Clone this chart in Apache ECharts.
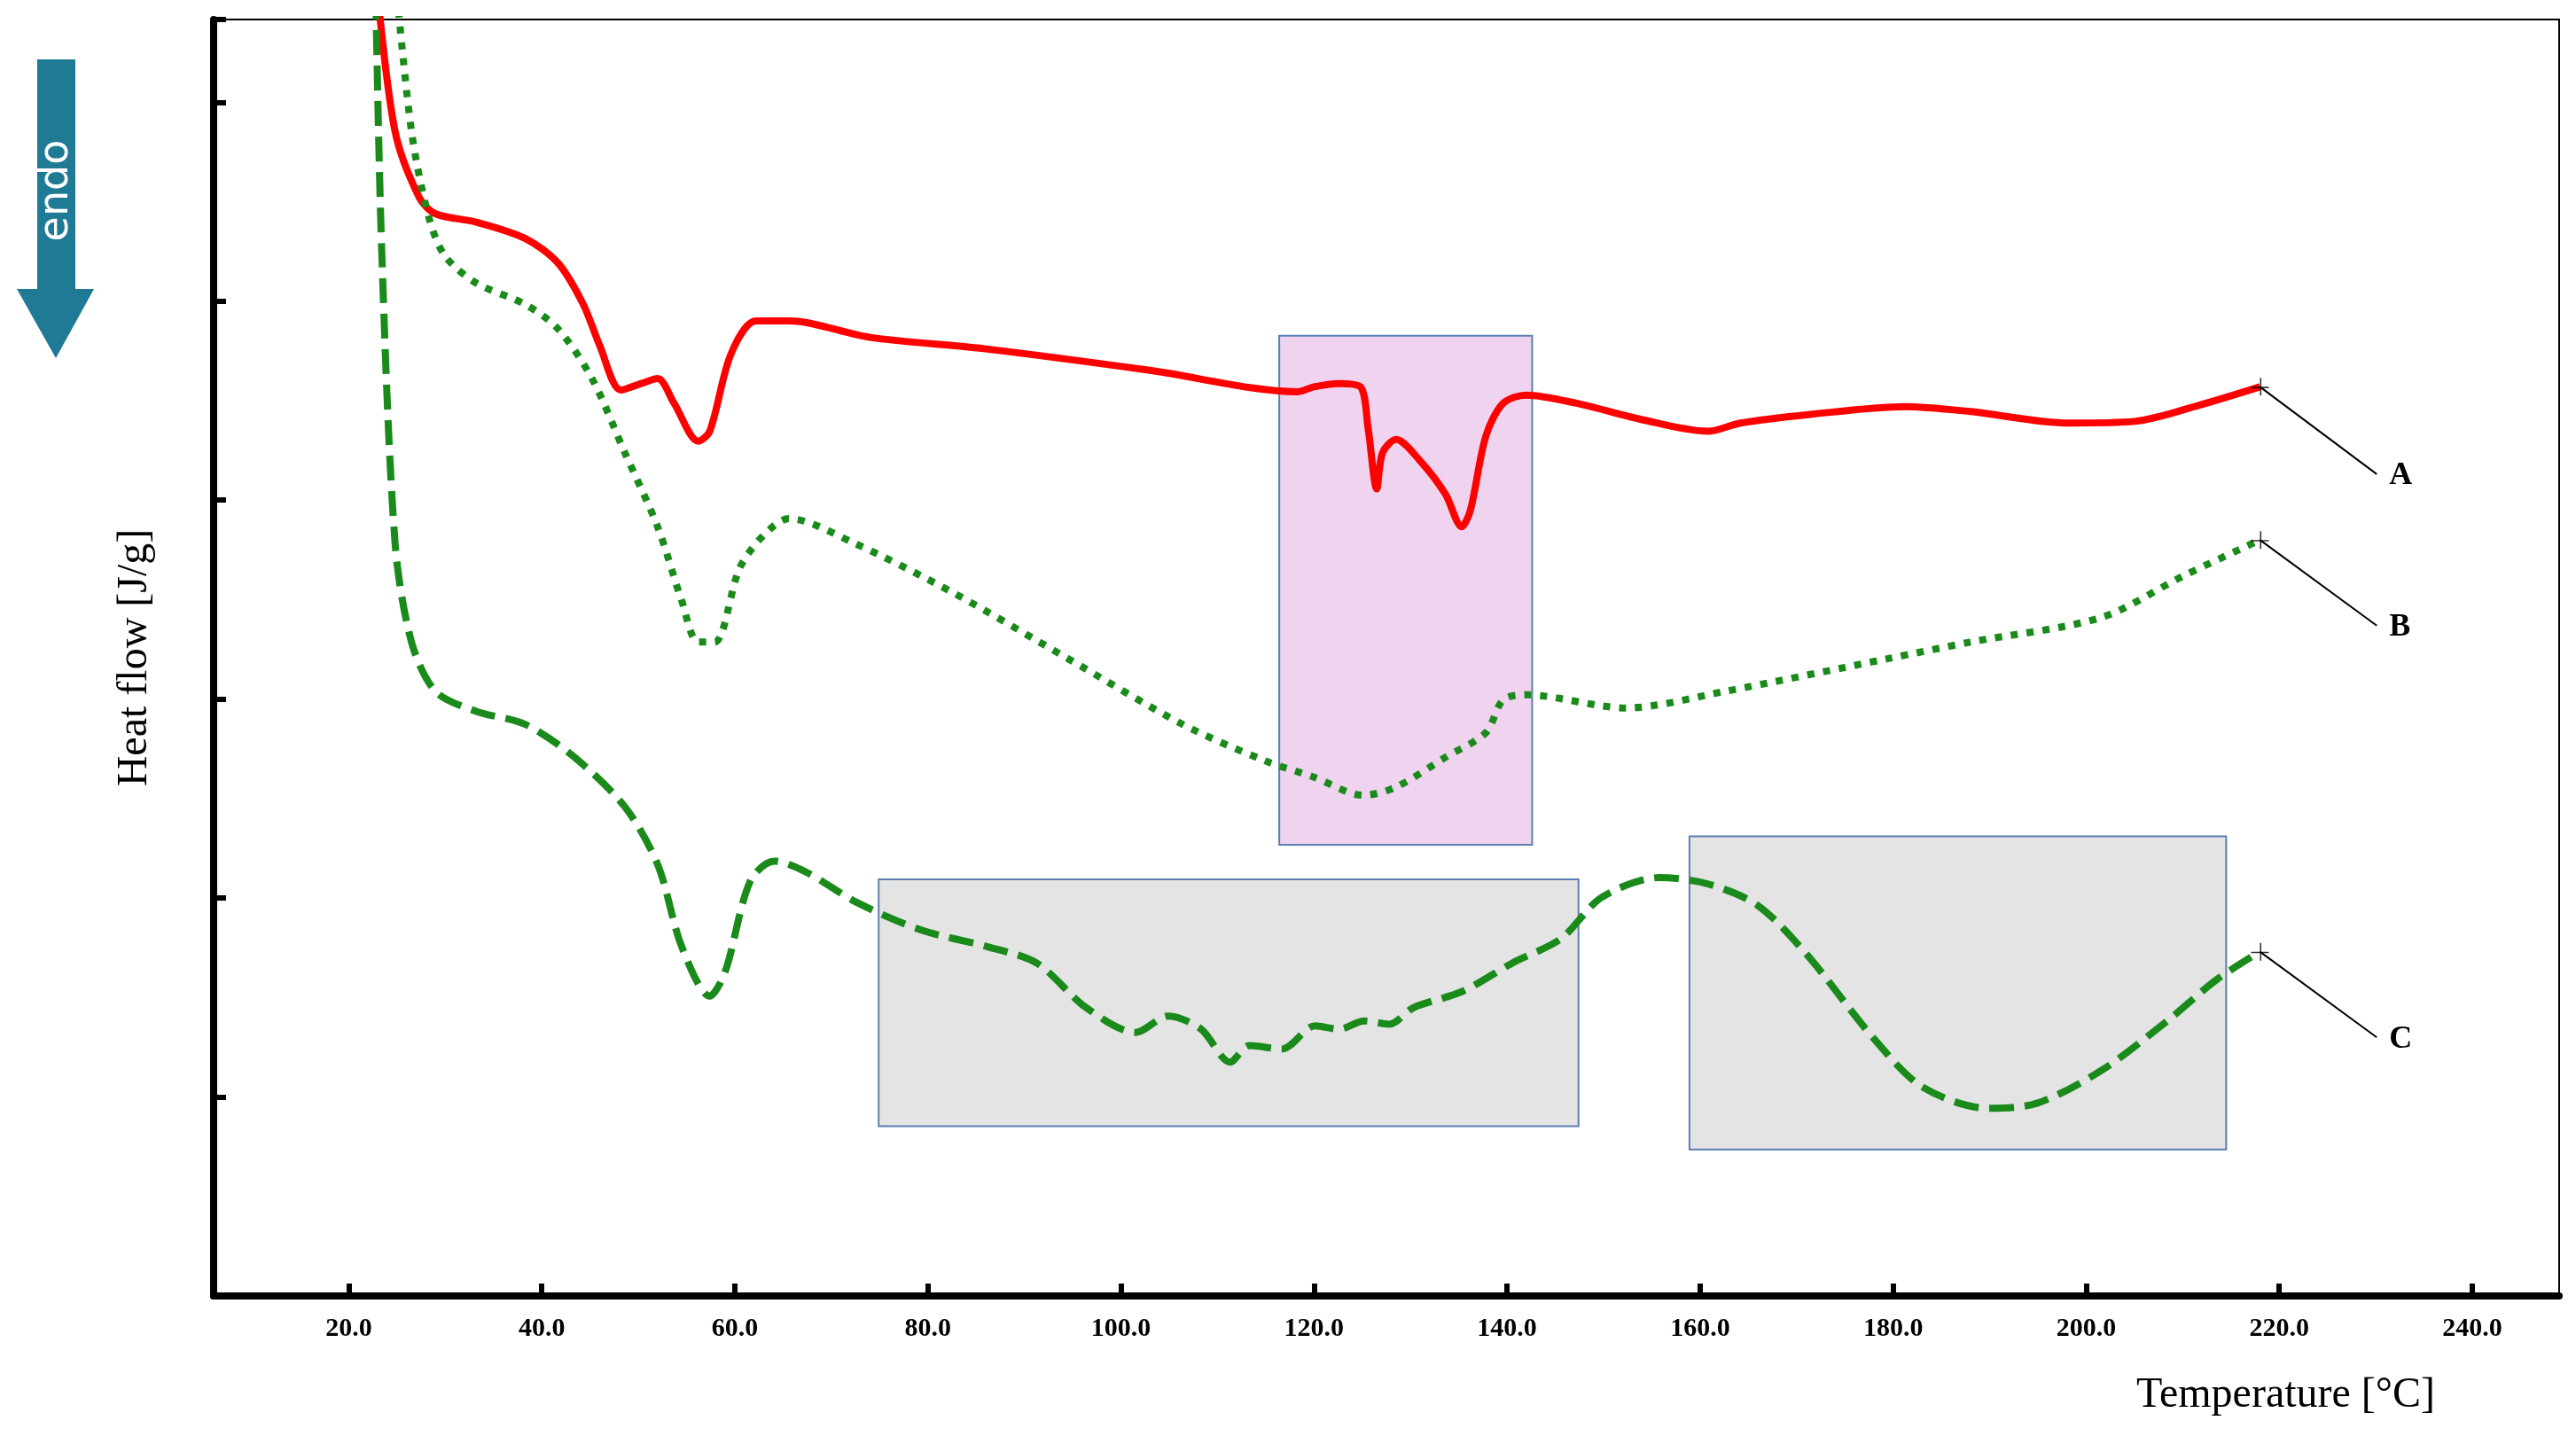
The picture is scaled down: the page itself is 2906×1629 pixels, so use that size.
<!DOCTYPE html>
<html><head><meta charset="utf-8">
<script src="https://cdn.jsdelivr.net/npm/echarts@6/dist/echarts.min.js"></script>
<style>html,body{margin:0;padding:0;background:#fff}#c{width:2906px;height:1629px}</style>
</head><body><div id="c"></div>
<script>
const xTicks = [20,40,60,80,100,120,140,160,180,200,220,240];
const curveA = [[23.0,7.9],[24.8,7.07],[27.3,6.67],[29,6.57],[33.2,6.52],[38.3,6.42],[41.7,6.27],[44.3,6.02],[46,5.77],[48.2,5.50],[50.3,5.54],[52,5.57],[53.7,5.42],[56.2,5.19],[57.4,5.25],[59.6,5.72],[62.2,5.92],[65.6,5.92],[74,5.82],[86,5.75],[103,5.62],[118.3,5.49],[120,5.52],[122.5,5.54],[124.8,5.52],[125.6,5.27],[126.5,4.90],[127.1,5.12],[128.5,5.20],[131,5.07],[133.6,4.87],[135.3,4.67],[136.2,4.77],[137.8,5.22],[139.6,5.42],[142,5.47],[147.2,5.42],[154,5.32],[160.8,5.25],[164.2,5.30],[171,5.35],[181.2,5.40],[188,5.37],[198.2,5.30],[205,5.31],[211.8,5.41],[218,5.52]];
const curveB = [[25.0,7.9],[26.5,7.07],[28.2,6.57],[29.9,6.32],[33.2,6.15],[38.3,6.02],[41.7,5.87],[45.2,5.57],[48.6,5.12],[52,4.67],[54.5,4.22],[56.2,3.97],[57.9,3.97],[60.5,4.42],[63,4.62],[65.6,4.72],[72.4,4.57],[82.6,4.27],[94.5,3.87],[106.4,3.47],[114.9,3.25],[120,3.15],[125.1,3.04],[128.5,3.09],[133.6,3.27],[137.8,3.42],[139.6,3.62],[142,3.65],[152.3,3.57],[162.5,3.67],[179.5,3.87],[188,3.97],[201.6,4.12],[210,4.37],[218,4.59]];
const curveC = [[22.8,7.9],[23.4,6.37],[24.8,4.57],[26.5,3.97],[29,3.67],[33.2,3.55],[38.3,3.47],[43.4,3.27],[48.6,2.97],[52,2.62],[54.5,2.12],[57.4,1.82],[59,1.97],[61.6,2.52],[64.1,2.64],[67.5,2.57],[72.6,2.39],[79.4,2.22],[86.2,2.12],[91.3,2.02],[96.4,1.75],[101.5,1.60],[104.9,1.70],[108.3,1.62],[111.3,1.42],[113.3,1.52],[116.7,1.50],[120.1,1.64],[122.6,1.62],[125.2,1.67],[127.8,1.65],[130.3,1.75],[135.4,1.85],[140.5,2.02],[145.6,2.17],[149.8,2.42],[155.8,2.54],[160.9,2.50],[166,2.37],[171.1,2.07],[177.9,1.57],[183,1.27],[189.8,1.14],[194.9,1.17],[201.6,1.37],[208.4,1.67],[213.5,1.92],[218,2.09]];
const boxPink = [[116.4,5.83],[142.6,2.74]];
const boxGrey1 = [[74.9,2.53],[147.4,1.03]];
const boxGrey2 = [[158.9,2.79],[214.5,0.89]];
const leaders = {A:[[218,5.52],[230.1,4.99]], B:[[218,4.59],[230.1,4.07]], C:[[218,2.09],[230.1,1.57]]};

const serif = '"Liberation Serif","DejaVu Serif",serif';
const chart = echarts.init(document.getElementById('c'));
function box(b, color){return [{coord:b[0], itemStyle:{color:color, borderColor:'#5a7fb0', borderWidth:2}},{coord:b[1]}];}
const leaderSeries = Object.keys(leaders).map(k=>({
  type:'line', data:leaders[k], symbol:'none', z:5,
  lineStyle:{color:'#000', width:2},
  endLabel:{show:true, formatter:k, fontFamily:serif, fontWeight:'bold', fontSize:36, color:'#000', offset:[6,2]}
}));
const plusSeries = {type:'scatter', data:Object.keys(leaders).map(k=>leaders[k][0]), symbol:'path://M0,5L10,5L10,5.8L0,5.8Z M5,0L5.8,0L5.8,10L5,10Z', symbolSize:20, itemStyle:{color:'#000'}, z:6};
chart.setOption({
  animation:false,
  grid:{left:241, right:19, top:22, bottom:167, show:true, borderColor:'#000', borderWidth:2},
  xAxis:{type:'value', min:6, max:249, interval:20, 
    axisLine:{lineStyle:{color:'#000', width:8}},
    axisTick:{inside:true, length:14, lineStyle:{width:6, color:'#000'}, customValues:xTicks},
    axisLabel:{customValues:xTicks, formatter:v=>v.toFixed(1), fontFamily:serif, fontWeight:'bold', fontSize:30, color:'#000', margin:22},
    splitLine:{show:false},
    name:'Temperature [°C]', nameLocation:'end', nameGap:0,
    nameTextStyle:{fontFamily:serif, fontSize:48, color:'#000', align:'right', verticalAlign:'top', padding:[88,140,0,0]}
  },
  yAxis:{type:'value', min:0, max:7.75, interval:1.208,
    axisLine:{show:true, lineStyle:{color:'#000', width:8}},
    axisTick:{show:true, inside:true, length:14, lineStyle:{width:6, color:'#000'}},
    axisLabel:{show:false}, splitLine:{show:false},
    name:'Heat flow [J/g]', nameLocation:'middle', nameGap:65,
    nameTextStyle:{fontFamily:serif, fontSize:48, color:'#000'}
  },
  series:[
    {type:'line', data:[], markArea:{silent:true, data:[box(boxPink,'#f0d4ef'), box(boxGrey1,'#e4e4e4'), box(boxGrey2,'#e4e4e4')]}, z:1},
    {type:'line', data:curveA, symbol:'none', smooth:0.3, clip:true, lineStyle:{color:'#ff0000', width:8}, z:3},
    {type:'line', data:curveB, symbol:'none', smooth:0.3, clip:true, lineStyle:{color:'#1a8a1a', width:8, type:[8,10]}, z:3},
    {type:'line', data:curveC, symbol:'none', smooth:0.3, clip:true, lineStyle:{color:'#1a8a1a', width:8, type:[28,12]}, z:3},
    ...leaderSeries, plusSeries
  ],
  graphic:[
    {type:'polygon', shape:{points:[[42,67],[85,67],[85,326],[106,326],[63,404],[19,326],[42,326]]}, style:{fill:'#1f7a95'}},
    {type:'text', x:64, y:215, rotation:Math.PI/2, style:{text:'endo', fill:'#fff', fontSize:46, fontFamily:'"DejaVu Sans",sans-serif', align:'center', verticalAlign:'middle'}}
  ]
});
</script></body></html>
